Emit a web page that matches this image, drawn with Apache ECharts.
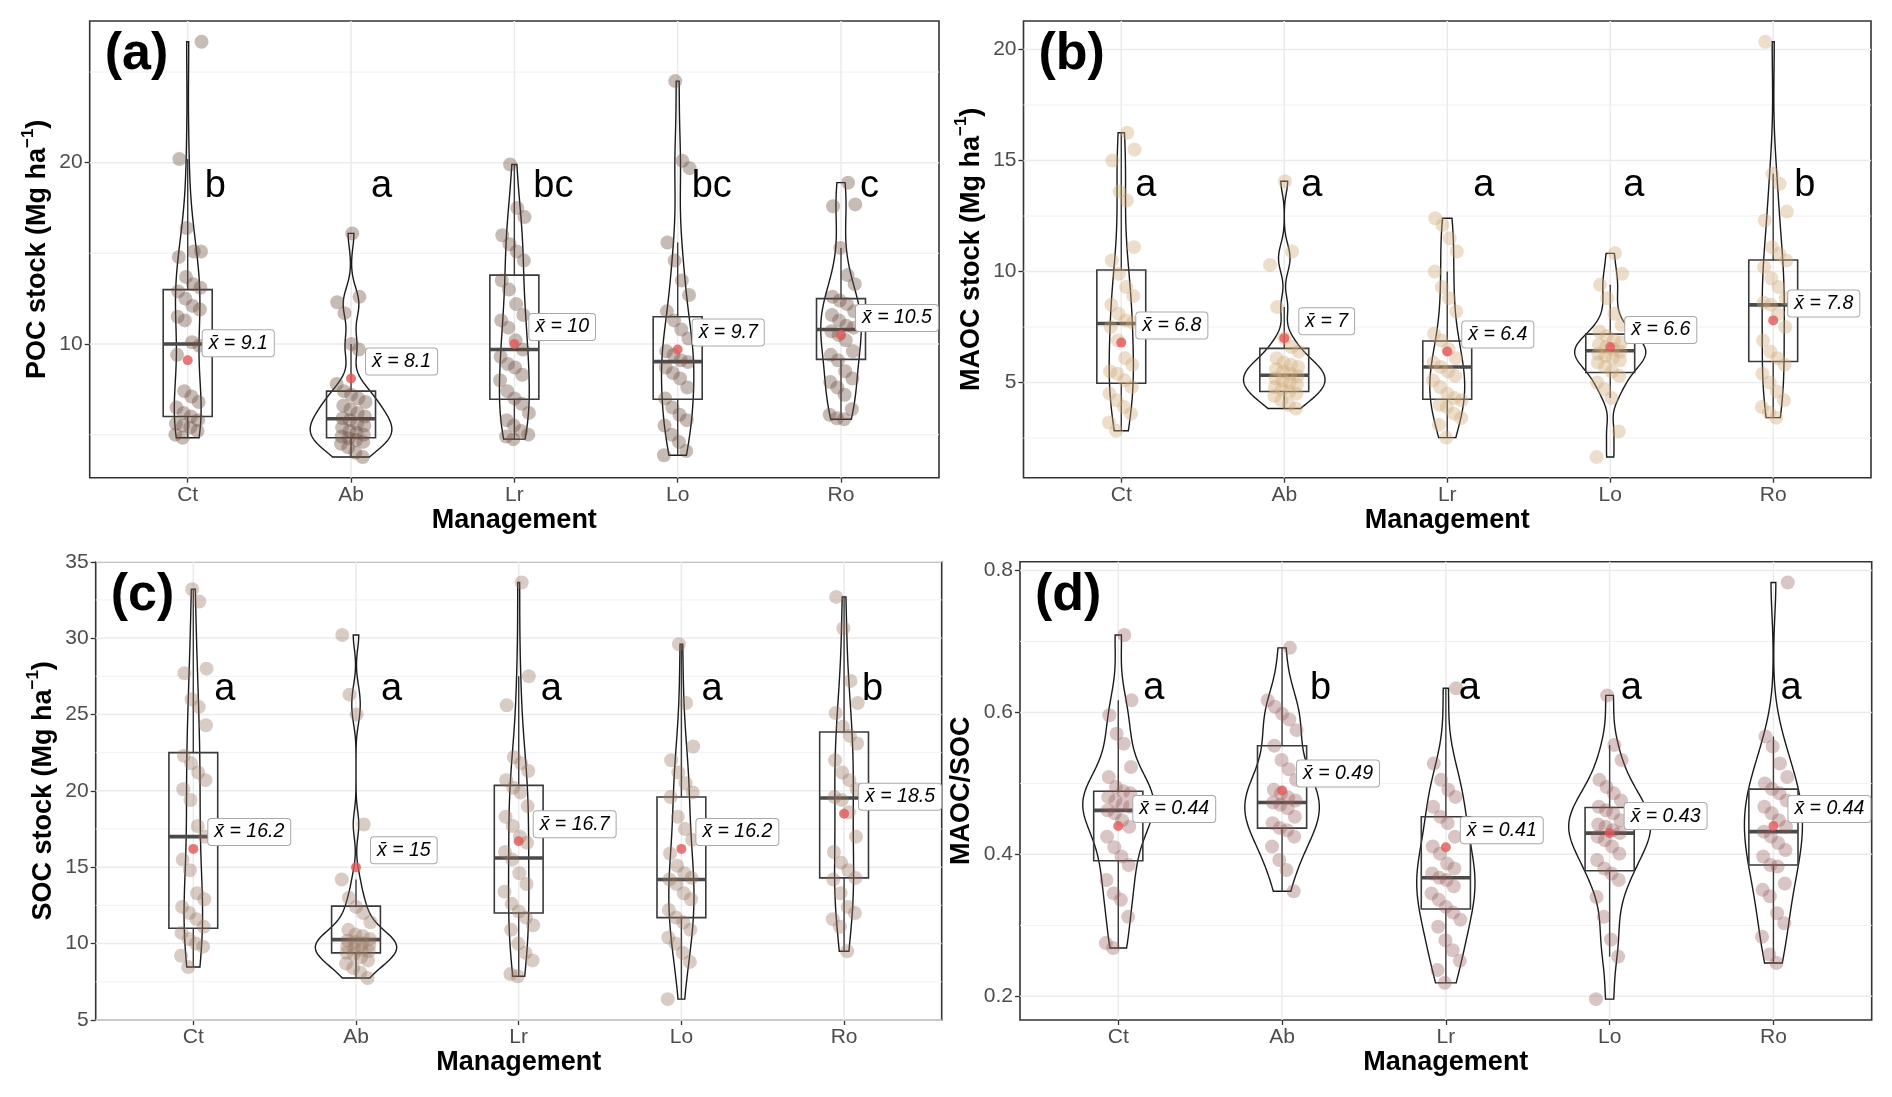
<!DOCTYPE html>
<html>
<head>
<meta charset="utf-8">
<script src="https://cdn.jsdelivr.net/npm/echarts@6/dist/echarts.min.js"></script>
<style>
html,body{margin:0;padding:0;background:#fff;}
#c{width:1892px;height:1097px;}
</style>
</head>
<body>
<div id="c"></div>
<script>
// ---------------- DATA ----------------
const categories = ['Ct', 'Ab', 'Lr', 'Lo', 'Ro'];

// (a) POC stock (Mg ha-1)
const pocCt = [4.83, 5.0, 5.2, 5.4, 5.5, 5.6, 5.8, 6.0, 6.2, 6.5, 6.8, 7.1, 7.4, 9.4, 9.9, 10.1, 11.3, 11.5, 11.9, 12.1, 12.5, 12.9, 13.1, 13.3, 13.7, 14.8, 15.1, 15.1, 16.4, 20.2, 26.67];
const pocAb = [3.77, 4.0, 4.3, 4.5, 4.6, 4.7, 4.8, 4.9, 5.0, 5.1, 5.2, 5.4, 5.5, 5.6, 5.8, 5.9, 6.0, 6.2, 6.4, 6.6, 6.8, 7.0, 7.2, 7.4, 7.8, 9.7, 10.0, 11.7, 12.3, 12.6, 16.1];
const pocLr = [4.75, 4.9, 5.0, 5.2, 5.5, 5.8, 6.2, 6.7, 7.0, 7.4, 8.0, 8.3, 8.7, 8.9, 9.3, 9.7, 10.2, 10.9, 11.3, 11.6, 12.2, 13.0, 13.5, 14.6, 15.1, 15.5, 16.0, 17.0, 17.5, 19.9];
const pocLo = [3.86, 4.1, 4.6, 5.0, 5.5, 5.8, 6.1, 6.5, 7.0, 7.6, 8.1, 8.4, 8.7, 9.0, 9.1, 9.4, 9.6, 10.3, 10.8, 11.3, 11.8, 12.7, 13.5, 14.6, 15.6, 19.7, 20.1, 24.5];
const pocRo = [5.85, 5.9, 6.1, 6.4, 7.2, 7.6, 7.9, 8.1, 8.5, 9.1, 9.4, 9.6, 10.2, 10.5, 10.7, 10.9, 11.0, 11.3, 11.6, 11.8, 12.2, 12.4, 12.6, 13.3, 13.8, 15.3, 17.6, 17.7, 18.9];
const pocQ1 = [6.0, 4.83, 6.95, 6.95, 9.15];
const pocMedian = [10.0, 5.88, 9.7, 9.03, 10.8];
const pocQ3 = [13.0, 7.4, 13.8, 11.5, 12.5];
const pocMean = [9.1, 8.1, 10, 9.7, 10.5];
const pocLetters = ['b', 'a', 'bc', 'bc', 'c'];
const pocLetterY = 17.94;
const pocTicks = [10, 20];

// (b) MAOC stock (Mg ha-1)
const maocCt = [2.83, 3.2, 3.6, 3.9, 4.2, 4.5, 4.8, 5.1, 5.4, 5.5, 5.8, 6.1, 6.9, 7.5, 7.7, 7.8, 8.1, 8.5, 8.9, 9.3, 9.9, 10.5, 11.1, 13.2, 13.6, 15.0, 15.5, 16.25];
const maocAb = [3.83, 4.0, 4.2, 4.4, 4.5, 4.6, 4.7, 4.8, 4.9, 5.0, 5.1, 5.2, 5.3, 5.4, 5.5, 5.6, 5.7, 5.8, 5.9, 6.1, 6.4, 6.6, 7.0, 8.4, 10.3, 10.9, 14.07];
const maocLr = [2.52, 3.1, 3.4, 3.6, 3.9, 4.0, 4.2, 4.3, 4.5, 4.8, 5.1, 5.3, 5.5, 5.7, 5.9, 6.1, 6.5, 6.9, 7.2, 8.2, 8.8, 9.3, 10.0, 10.9, 11.5, 12.1, 12.4];
const maocLo = [1.65, 2.8, 4.3, 4.7, 5.0, 5.3, 5.5, 5.7, 5.9, 6.0, 6.1, 6.2, 6.3, 6.4, 6.5, 6.6, 6.7, 6.8, 6.9, 7.1, 7.3, 7.6, 8.1, 8.8, 9.4, 9.9, 10.82];
const maocRo = [3.42, 3.65, 3.9, 4.2, 4.6, 5.0, 5.4, 5.8, 6.1, 6.4, 6.9, 7.5, 8.1, 8.5, 8.6, 8.8, 9.3, 9.7, 10.2, 10.5, 10.8, 11.1, 12.3, 12.7, 13.95, 14.4, 20.35];
const maocQ1 = [4.97, 4.6, 4.25, 5.45, 5.95];
const maocMedian = [7.66, 5.33, 5.7, 6.43, 8.5];
const maocQ3 = [10.07, 6.54, 6.87, 7.18, 10.52];
const maocMean = [6.8, 7, 6.4, 6.6, 7.8];
const maocLetters = ['a', 'a', 'a', 'a', 'b'];
const maocLetterY = 13.26;
const maocTicks = [5, 10, 15, 20];

// (c) SOC stock (Mg ha-1)
const socCt = [8.47, 9.2, 9.8, 10.0, 10.3, 10.7, 11.1, 11.6, 12.0, 12.4, 12.9, 13.3, 14.8, 15.5, 17.0, 17.7, 19.4, 20.1, 20.7, 21.2, 21.8, 22.3, 24.3, 25.5, 26.0, 27.7, 28.0, 32.4, 33.2];
const socAb = [7.75, 8.1, 8.4, 8.7, 8.9, 9.1, 9.3, 9.4, 9.5, 9.6, 9.7, 9.8, 9.9, 10.0, 10.1, 10.2, 10.3, 10.5, 10.6, 10.9, 11.4, 12.0, 12.4, 13.0, 14.2, 17.8, 25.0, 26.3, 30.2];
const socLr = [7.86, 8.0, 8.9, 9.4, 10.0, 10.9, 11.2, 11.7, 12.1, 12.6, 13.4, 13.9, 14.6, 15.5, 16.0, 16.6, 17.0, 17.7, 18.3, 19.0, 19.9, 20.2, 20.7, 21.3, 21.8, 22.2, 25.6, 27.5, 33.64];
const socLo = [6.36, 8.8, 9.4, 10.0, 10.4, 10.9, 11.4, 11.7, 12.2, 12.9, 13.3, 13.9, 14.2, 14.3, 14.6, 15.1, 15.9, 16.8, 17.5, 18.3, 19.6, 19.9, 20.5, 21.2, 22.0, 22.9, 25.75, 29.6];
const socRo = [9.5, 11.1, 11.6, 12.0, 12.4, 13.3, 14.2, 14.3, 14.8, 15.3, 16.0, 17.0, 18.6, 19.4, 19.6, 20.1, 20.7, 21.2, 22.0, 23.1, 23.6, 24.2, 25.1, 25.75, 27.2, 30.65, 32.7];
const socQ1 = [11.0, 9.39, 12.0, 11.7, 14.3];
const socMedian = [17.0, 10.26, 15.6, 14.2, 19.53];
const socQ3 = [22.5, 12.45, 20.36, 19.6, 23.85];
const socMean = [16.2, 15, 16.7, 16.2, 18.5];
const socLetters = ['a', 'a', 'a', 'a', 'b'];
const socLetterY = 25.8;
const socTicks = [5, 10, 15, 20, 25, 30, 35];

// (d) MAOC/SOC
const ratioCt = [0.268, 0.275, 0.312, 0.336, 0.345, 0.364, 0.385, 0.397, 0.410, 0.425, 0.439, 0.448, 0.458, 0.462, 0.467, 0.470, 0.476, 0.481, 0.486, 0.489, 0.495, 0.509, 0.523, 0.556, 0.570, 0.596, 0.617, 0.709];
const ratioAb = [0.348, 0.378, 0.392, 0.411, 0.425, 0.434, 0.437, 0.444, 0.453, 0.465, 0.470, 0.473, 0.476, 0.480, 0.486, 0.491, 0.505, 0.520, 0.533, 0.553, 0.575, 0.590, 0.598, 0.608, 0.617, 0.691];
const ratioLr = [0.219, 0.237, 0.250, 0.265, 0.279, 0.298, 0.308, 0.318, 0.326, 0.336, 0.345, 0.355, 0.364, 0.367, 0.373, 0.380, 0.387, 0.401, 0.411, 0.425, 0.444, 0.453, 0.467, 0.481, 0.491, 0.505, 0.528, 0.634];
const ratioLo = [0.196, 0.256, 0.280, 0.312, 0.340, 0.364, 0.373, 0.380, 0.392, 0.401, 0.411, 0.420, 0.425, 0.430, 0.434, 0.439, 0.442, 0.448, 0.458, 0.462, 0.467, 0.476, 0.486, 0.495, 0.505, 0.533, 0.554, 0.624];
const ratioRo = [0.247, 0.259, 0.284, 0.303, 0.317, 0.341, 0.350, 0.359, 0.383, 0.385, 0.397, 0.406, 0.416, 0.425, 0.432, 0.439, 0.448, 0.458, 0.467, 0.476, 0.486, 0.492, 0.500, 0.509, 0.528, 0.552, 0.566, 0.783];
const ratioQ1 = [0.391, 0.437, 0.323, 0.377, 0.385];
const ratioMedian = [0.462, 0.473, 0.367, 0.430, 0.432];
const ratioQ3 = [0.489, 0.553, 0.453, 0.466, 0.492];
const ratioMean = [0.44, 0.49, 0.41, 0.43, 0.44];
const ratioLetters = ['a', 'b', 'a', 'a', 'a'];
const ratioLetterY = 0.615;
const ratioTicks = [0.2, 0.4, 0.6, 0.8];

// ---------------- LAYOUT / STYLE ----------------
const FONT = '"Liberation Sans", Arial, Helvetica, sans-serif';
const PANELS = [
  { groups: [pocCt, pocAb, pocLr, pocLo, pocRo], q1: pocQ1, med: pocMedian, q3: pocQ3, mean: pocMean, letters: pocLetters, letterY: pocLetterY, ticks: pocTicks,
    name: 'POC stock (Mg ha{sup|\u22121})', tag: '(a)', fmt: v => String(v),
    left: 89.7, top: 21, width: 849.3, height: 456.7, nameGap: 33, color: 'rgba(108,78,64,0.48)', letterDx: [17, 20, 19, 14, 19] },
  { groups: [maocCt, maocAb, maocLr, maocLo, maocRo], q1: maocQ1, med: maocMedian, q3: maocQ3, mean: maocMean, letters: maocLetters, letterY: maocLetterY, ticks: maocTicks,
    name: 'MAOC stock (Mg ha{sup|\u22121})', tag: '(b)', fmt: v => String(v),
    left: 1023.5, top: 21, width: 847.5, height: 456.7, nameGap: 32.5, color: 'rgba(208,170,120,0.48)', letterDx: [14, 17, 26, 13, 21] },
  { groups: [socCt, socAb, socLr, socLo, socRo], q1: socQ1, med: socMedian, q3: socQ3, mean: socMean, letters: socLetters, letterY: socLetterY, ticks: socTicks,
    name: 'SOC stock (Mg ha{sup|\u22121})', tag: '(c)', fmt: v => String(v),
    left: 95.7, top: 561.7, width: 846, height: 458.3, nameGap: 34.5, color: 'rgba(150,118,95,0.46)', letterDx: [21, 25, 22, 20, 18] },
  { groups: [ratioCt, ratioAb, ratioLr, ratioLo, ratioRo], q1: ratioQ1, med: ratioMedian, q3: ratioQ3, mean: ratioMean, letters: ratioLetters, letterY: ratioLetterY, ticks: ratioTicks,
    name: 'MAOC/SOC', tag: '(d)', fmt: v => v.toFixed(1),
    left: 1020, top: 561.7, width: 851.7, height: 458.3, nameGap: 32, color: 'rgba(150,92,92,0.44)', letterDx: [25, 28, 13, 11, 7] }
];

// ---------------- HELPERS ----------------
function quantile(sorted, p) {
  const h = (sorted.length - 1) * p, lo = Math.floor(h);
  const hi = Math.min(lo + 1, sorted.length - 1);
  return sorted[lo] + (h - lo) * (sorted[hi] - sorted[lo]);
}
function bwNrd0(x) {
  const n = x.length, s = [...x].sort((a, b) => a - b);
  const m = x.reduce((a, b) => a + b, 0) / n;
  const sd = Math.sqrt(x.reduce((a, b) => a + (b - m) * (b - m), 0) / (n - 1));
  const iqr = quantile(s, 0.75) - quantile(s, 0.25);
  let lo = Math.min(sd, iqr / 1.34);
  if (!lo) lo = sd || 1;
  return 0.9 * lo * Math.pow(n, -0.2);
}
function density(x, nGrid) {
  const bw = bwNrd0(x), n = x.length;
  const lo = Math.min(...x), hi = Math.max(...x);
  const ys = [], ds = [];
  const c = 1 / (n * bw * Math.sqrt(2 * Math.PI));
  for (let i = 0; i < nGrid; i++) {
    const y = lo + (hi - lo) * i / (nGrid - 1);
    let d = 0;
    for (const v of x) { const z = (y - v) / bw; d += Math.exp(-0.5 * z * z); }
    ys.push(y); ds.push(d * c);
  }
  return { ys, ds };
}
function jitter(g, i) {
  const r = ((i + 1) * 0.7548776662 + (g + 1) * 0.5698402910) % 1;
  return (r - 0.5) * 0.18;
}

// ---------------- BUILD ----------------
const grids = [], xAxes = [], yAxes = [], series = [], graphics = [];

PANELS.forEach((P, pi) => {
  const all = [].concat(...P.groups);
  const dMin = Math.min(...all), dMax = Math.max(...all), rng = dMax - dMin;
  const yMin = dMin - 0.05 * rng, yMax = dMax + 0.05 * rng;

  grids.push({ left: P.left, top: P.top, width: P.width, height: P.height, show: true,
    borderColor: '#333333', borderWidth: 1.6, backgroundColor: '#ffffff', containLabel: false, outerBoundsMode: 'none' });

  xAxes.push({ type: 'value', gridIndex: pi, min: 0.4, max: 5.6,
    axisLine: { show: false }, splitLine: { show: false },
    axisTick: { show: true, length: 5, lineStyle: { color: '#333', width: 1.3 }, customValues: [1, 2, 3, 4, 5] },
    axisLabel: { customValues: [1, 2, 3, 4, 5], formatter: v => categories[Math.round(v) - 1] || '', color: '#4d4d4d', fontSize: 21, margin: 7, fontFamily: FONT },
    name: 'Management', nameLocation: 'middle', nameGap: 29,
    nameTextStyle: { fontSize: 27, fontWeight: 'bold', color: '#000', fontFamily: FONT } });

  const step = P.ticks[1] - P.ticks[0];
  const minors = [];
  for (let k = -1; k < P.ticks.length; k++) {
    const v = P.ticks[0] + (k + 0.5) * step;
    if (v > yMin && v < yMax) minors.push(v);
  }

  yAxes.push({ type: 'value', gridIndex: pi, min: yMin, max: yMax,
    axisLine: { show: false }, splitLine: { show: false },
    axisTick: { show: true, length: 5, lineStyle: { color: '#333', width: 1.3 }, customValues: P.ticks },
    axisLabel: { customValues: P.ticks, formatter: v => P.fmt(v), color: '#4d4d4d', fontSize: 21, margin: 7, fontFamily: FONT },
    name: P.name, nameLocation: 'middle', nameGap: P.nameGap, nameRotate: 90,
    nameTextStyle: { fontSize: 27, fontWeight: 'bold', color: '#000', fontFamily: FONT, lineHeight: 36,
      rich: { sup: { fontSize: 17, fontWeight: 'bold', color: '#000', fontFamily: FONT, verticalAlign: 'top' } } } });

  // grid lines
  series.push({ type: 'custom', xAxisIndex: pi, yAxisIndex: pi, silent: true, z: 1,
    data: [[1, P.ticks[0]]],
    renderItem: (params, api) => {
      const cs = params.coordSys, ch = [];
      minors.forEach(v => { const y = api.coord([1, v])[1];
        ch.push({ type: 'line', shape: { x1: cs.x, y1: y, x2: cs.x + cs.width, y2: y }, style: { stroke: '#f1f1f1', lineWidth: 1 } }); });
      P.ticks.forEach(v => { const y = api.coord([1, v])[1];
        ch.push({ type: 'line', shape: { x1: cs.x, y1: y, x2: cs.x + cs.width, y2: y }, style: { stroke: '#ebebeb', lineWidth: 1.5 } }); });
      categories.forEach((c, k) => { const x = api.coord([k + 1, yMin])[0];
        ch.push({ type: 'line', shape: { x1: x, y1: cs.y, x2: x, y2: cs.y + cs.height }, style: { stroke: '#ebebeb', lineWidth: 1.5 } }); });
      return { type: 'group', children: ch };
    } });

  // violins
  const dens = P.groups.map(g => density(g, 200));
  const maxD = Math.max(...dens.map(d => Math.max(...d.ds)));
  series.push({ type: 'custom', xAxisIndex: pi, yAxisIndex: pi, silent: true, z: 2,
    data: categories.map((c, k) => [k + 1, P.med[k]]),
    renderItem: (params, api) => {
      const k = params.dataIndex, d = dens[k], cx = k + 1, pts = [];
      for (let i = 0; i < d.ys.length; i++) pts.push(api.coord([cx + d.ds[i] / maxD * 0.25, d.ys[i]]));
      for (let i = d.ys.length - 1; i >= 0; i--) pts.push(api.coord([cx - d.ds[i] / maxD * 0.25, d.ys[i]]));
      return { type: 'polygon', shape: { points: pts }, style: { fill: 'none', stroke: '#1a1a1a', lineWidth: 1.4 } };
    } });

  // boxplots
  const boxRows = categories.map((c, k) => {
    const q1 = P.q1[k], q3 = P.q3[k], iqr = q3 - q1;
    const vals = P.groups[k];
    const hi = Math.max(q3, ...vals.filter(v => v <= q3 + 1.5 * iqr));
    const lo = Math.min(q1, ...vals.filter(v => v >= q1 - 1.5 * iqr));
    return [k + 1, lo, q1, P.med[k], q3, hi];
  });
  series.push({ type: 'custom', xAxisIndex: pi, yAxisIndex: pi, silent: true, z: 3,
    data: boxRows,
    renderItem: (params, api) => {
      const x = api.value(0);
      const pLo = api.coord([x, api.value(1)]), pQ1 = api.coord([x - 0.15, api.value(2)]);
      const pMedL = api.coord([x - 0.15, api.value(3)]), pMedR = api.coord([x + 0.15, api.value(3)]);
      const pQ3 = api.coord([x + 0.15, api.value(4)]), pHi = api.coord([x, api.value(5)]);
      const pQ1c = api.coord([x, api.value(2)]), pQ3c = api.coord([x, api.value(4)]);
      return { type: 'group', children: [
        { type: 'line', shape: { x1: pHi[0], y1: pHi[1], x2: pQ3c[0], y2: pQ3c[1] }, style: { stroke: '#3a3a3a', lineWidth: 1.4 } },
        { type: 'line', shape: { x1: pLo[0], y1: pLo[1], x2: pQ1c[0], y2: pQ1c[1] }, style: { stroke: '#3a3a3a', lineWidth: 1.4 } },
        { type: 'rect', shape: { x: pQ1[0], y: pQ3[1], width: pQ3[0] - pQ1[0], height: pQ1[1] - pQ3[1] }, style: { fill: 'none', stroke: '#3a3a3a', lineWidth: 1.6 } },
        { type: 'line', shape: { x1: pMedL[0], y1: pMedL[1], x2: pMedR[0], y2: pMedR[1] }, style: { stroke: '#4a4a4a', lineWidth: 3.6 } }
      ] };
    } });

  // jittered points
  const ptData = [];
  P.groups.forEach((g, k) => g.forEach((v, i) => ptData.push([k + 1 + jitter(k, i), v])));
  series.push({ type: 'scatter', xAxisIndex: pi, yAxisIndex: pi, silent: true, z: 4,
    symbol: 'circle', symbolSize: 14, itemStyle: { color: P.color }, data: ptData });

  // means
  series.push({ type: 'scatter', xAxisIndex: pi, yAxisIndex: pi, silent: true, z: 5,
    symbol: 'circle', symbolSize: 10, itemStyle: { color: '#e35858' },
    data: P.mean.map((m, k) => [k + 1, m]) });

  // mean labels
  series.push({ type: 'custom', xAxisIndex: pi, yAxisIndex: pi, silent: true, z: 6,
    data: P.mean.map((m, k) => [k + 1, m]),
    renderItem: (params, api) => {
      const p = api.coord([api.value(0), api.value(1)]);
      return { type: 'text', x: p[0] + 15, y: p[1] - 17,
        style: { text: 'x\u0304 = ' + String(api.value(1)), fontSize: 19.5, fontStyle: 'italic', fontFamily: FONT, fill: '#000',
          align: 'left', verticalAlign: 'middle', backgroundColor: '#ffffff', borderColor: '#a8a8a8', borderWidth: 1,
          borderRadius: 3, padding: [3, 6, 3, 6] } };
    } });

  // significance letters
  series.push({ type: 'custom', xAxisIndex: pi, yAxisIndex: pi, silent: true, z: 6,
    data: P.letters.map((l, k) => [k + 1, P.letterY]),
    renderItem: (params, api) => {
      const k = params.dataIndex;
      const p = api.coord([api.value(0), api.value(1)]);
      return { type: 'text', x: p[0] + P.letterDx[k], y: p[1] - 0.3465 * 38,
        style: { text: P.letters[k], fontSize: 38, fontFamily: FONT, fill: '#000', align: 'left', verticalAlign: 'middle' } };
    } });

  // panel tag
  graphics.push({ type: 'text', x: P.left + 15, y: P.top + 33.5, z: 100,
    style: { text: P.tag, fontSize: 52, fontWeight: 'bold', fontFamily: FONT, fill: '#000', align: 'left', verticalAlign: 'middle' } });
});

const chart = echarts.init(document.getElementById('c'), null, { renderer: 'canvas' });
chart.setOption({
  animation: false,
  backgroundColor: '#ffffff',
  grid: grids, xAxis: xAxes, yAxis: yAxes, series: series, graphic: graphics
});
</script>
</body>
</html>
